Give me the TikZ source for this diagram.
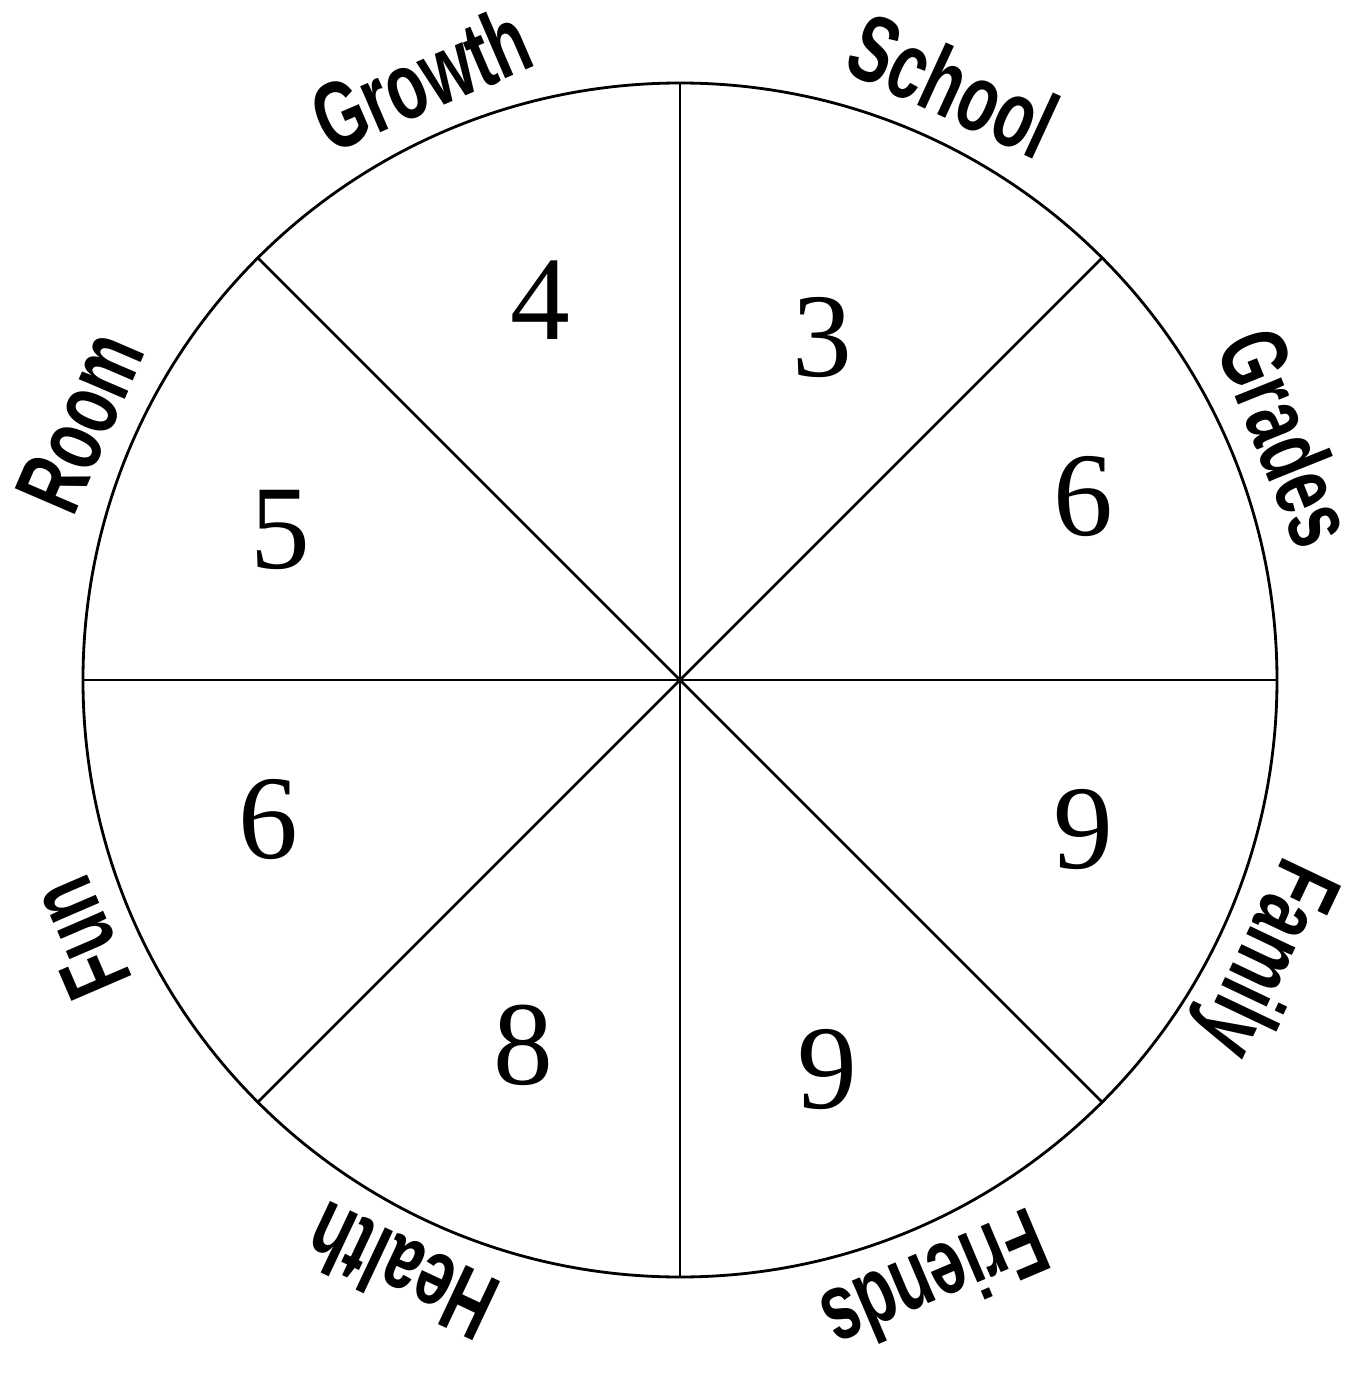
\documentclass[tikz,border=0pt]{standalone}
\usepackage{fontspec}
\usepackage{tikz}
\newfontfamily\wheelfont{Liberation Sans}
\newfontfamily\scorefont{Liberation Serif}
\newcommand{\wlabel}[1]{\scalebox{0.68}[1]{\wheelfont\bfseries #1}}

\begin{document}
\begin{tikzpicture}[
    lbl/.style={anchor=base,inner sep=0pt,font=\fontsize{27}{30}\selectfont},
    num/.style={inner sep=0pt,font=\scorefont\fontsize{34}{38}\selectfont}]
  \useasboundingbox (-6.80,-6.93) rectangle (6.88,6.80);
  \coordinate (O) at (0,0);
  % wheel
  \draw[line width=0.8pt] (O) circle (5.97);
  \draw[line width=0.8pt] (90:5.97) -- (270:5.97);
  \draw[line width=0.8pt] (0:5.97) -- (180:5.97);
  \draw[line width=0.8pt] (45:5.97) -- (225:5.97);
  \draw[line width=0.8pt] (135:5.97) -- (315:5.97);
  \fill (O) circle (0.9pt);
  % scores
  \node[num] (growthval) at (-1.40,3.80) {4};
  \node[num] (schoolval) at (1.42,3.42) {3};
  \node[num] (gradesval) at (4.03,1.83) {6};
  \node[num] (familyval) at (4.03,-1.50) {9};
  \node[num] (friendsval) at (1.47,-3.90) {9};
  \node[num] (healthval) at (-1.57,-3.65) {8};
  \node[num] (funval) at (-4.12,-1.40) {6};
  \node[num] (roomval) at (-4.00,1.50) {5};
  % areas
  \node[lbl,rotate=23.3] (growth) at (113.3:6.21) {\wlabel{Growth}};
  \node[lbl,rotate=-24.7] (school) at (65.3:6.21) {\wlabel{School}};
  \node[lbl,rotate=-68.2] (grades) at (21.8:6.21) {\wlabel{Grades}};
  \node[lbl,rotate=-115.4] (family) at (-25.4:6.21) {\wlabel{Family}};
  \node[lbl,rotate=-157] (friends) at (-67:6.21) {\wlabel{Friends}};
  \node[lbl,rotate=154.8] (health) at (244.8:6.21) {\wlabel{Health}};
  \node[lbl,rotate=113.3] (fun) at (203.3:6.21) {\wlabel{Fun}};
  \node[lbl,rotate=66.7] (room) at (156.7:6.21) {\wlabel{Room}};
\end{tikzpicture}
\end{document}
